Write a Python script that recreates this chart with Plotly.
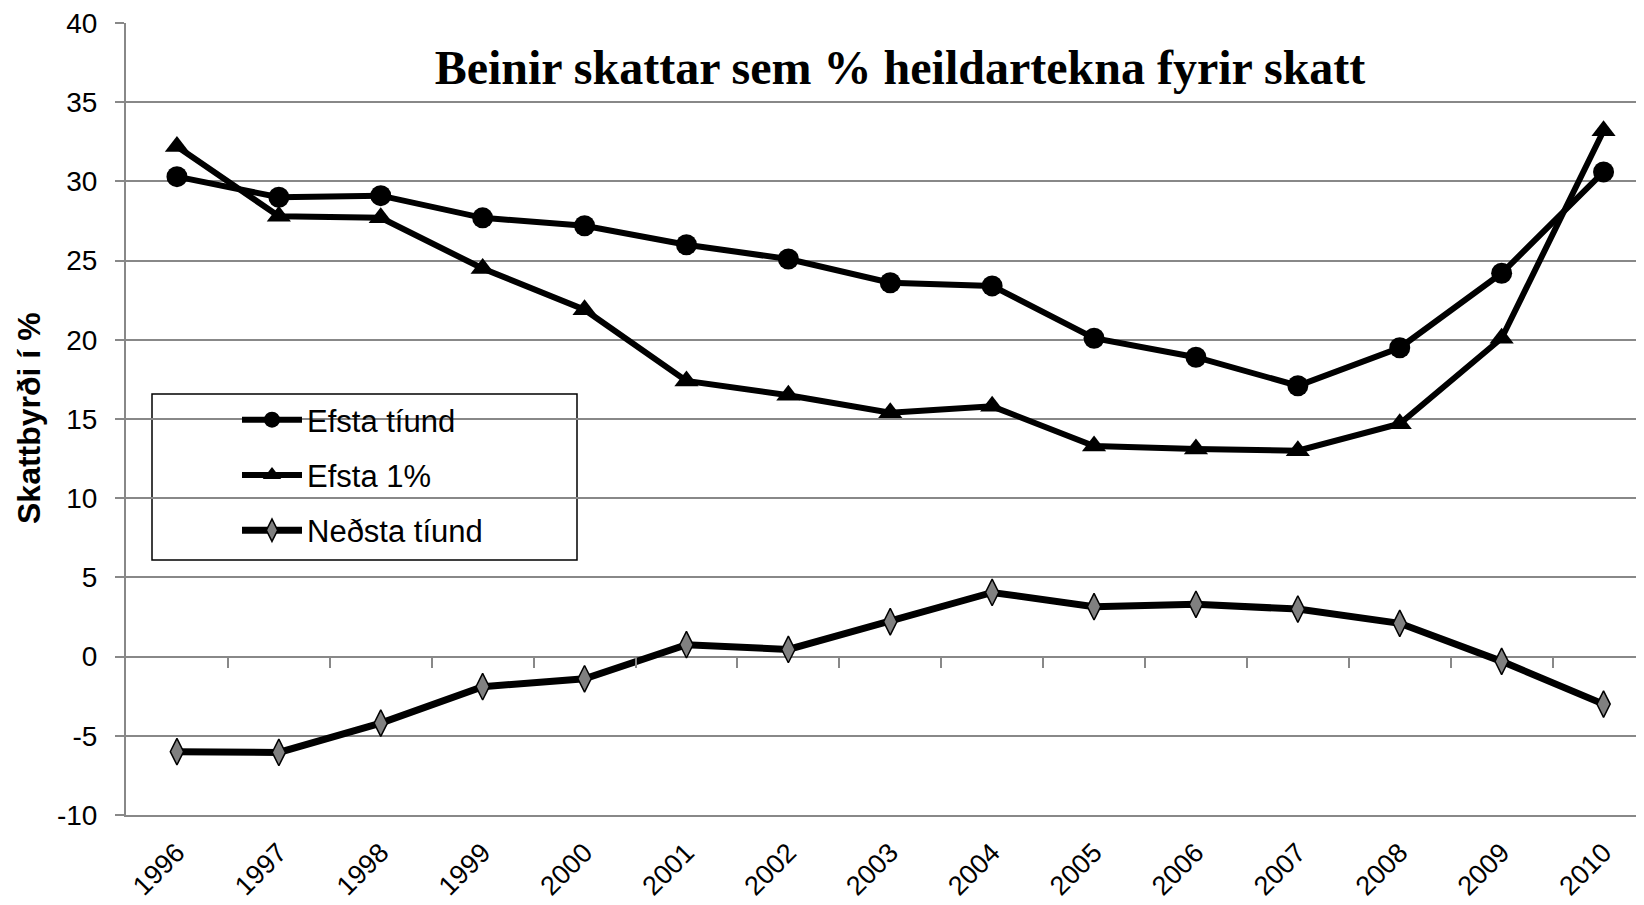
import plotly.graph_objects as go

years = [1996, 1997, 1998, 1999, 2000, 2001, 2002, 2003, 2004, 2005, 2006, 2007, 2008, 2009, 2010]
year_labels = [str(y) for y in years]
efsta_tiund = [30.3, 29.0, 29.1, 27.7, 27.2, 26.0, 25.1, 23.6, 23.4, 20.1, 18.9, 17.1, 19.5, 24.2, 30.6]
efsta_1pct = [32.2, 27.8, 27.7, 24.5, 21.9, 17.4, 16.5, 15.4, 15.8, 13.3, 13.1, 13.0, 14.7, 20.1, 33.2]
nedsta_tiund = [-6.0, -6.05, -4.2, -1.9, -1.4, 0.75, 0.45, 2.2, 4.05, 3.15, 3.3, 3.0, 2.1, -0.3, -3.0]
series_names = ["Efsta tíund", "Efsta 1%", "Neðsta tíund"]
y_ticks = [-10, -5, 0, 5, 10, 15, 20, 25, 30, 35, 40]
y_tick_text = ["-10", "-5", "0", "5", "10", "15", "20", "25", "30", "35", "40"]
title_text = "Beinir skattar sem % heildartekna fyrir skatt"
y_title = "Skattbyrði í %"

GRID = "#888888"
OFF = 8  # default page body margin
W, H = 1644 - OFF, 905 - OFF
ML, MR, MT, MB = 126 - OFF, 0, 23 - OFF, 90
PW = W - ML - MR
PH = H - MT - MB
cat_w = 101.9
x_range = [years[0] - 0.5, years[0] - 0.5 + PW / cat_w]


def px_x(px):
    return (px - OFF - ML) / PW


def px_y(py):
    return (OFF + MT + PH - py) / PH


fig = go.Figure()
fig.add_trace(go.Scatter(
    x=years, y=efsta_tiund, name=series_names[0], mode="lines+markers",
    line=dict(color="black", width=6),
    marker=dict(symbol="circle", size=21, color="black"),
    legendgroup="a"))
fig.add_trace(go.Scatter(
    x=years, y=efsta_1pct, name=series_names[1], mode="lines+markers",
    line=dict(color="black", width=6),
    marker=dict(symbol="triangle-up", size=21, color="black"),
    legendgroup="b"))
fig.add_trace(go.Scatter(
    x=years, y=nedsta_tiund, name=series_names[2], mode="lines+markers",
    line=dict(color="black", width=7),
    marker=dict(symbol="diamond-tall", size=19, color="#808080",
                line=dict(color="black", width=1.5)),
    legendgroup="c"))
# helper trace for the tick axis at y = 0
fig.add_trace(go.Scatter(x=years, y=[None] * len(years), xaxis="x2",
                         showlegend=False, hoverinfo="skip"))

fig.update_layout(
    width=W, height=H, autosize=False,
    margin=dict(l=ML, r=MR, t=MT, b=MB, autoexpand=False),
    paper_bgcolor="white", plot_bgcolor="white",
    font=dict(family="Liberation Sans, Arial", color="black"),
    showlegend=True,
    xaxis=dict(range=x_range, tickmode="array", tickvals=years, ticktext=year_labels,
               tickangle=-45, ticks="", showgrid=False, zeroline=False,
               showline=True, linecolor=GRID, linewidth=2, automargin=False,
               tickfont=dict(size=27), ticklabelstandoff=9, ticklabeloverflow="allow"),
    xaxis2=dict(range=x_range, overlaying="x", anchor="free", position=10 / 50,
                tickmode="array", tickvals=[y + 0.5 for y in years[:-1]],
                ticks="outside", ticklen=10, tickwidth=2, tickcolor=GRID, automargin=False,
                showticklabels=False, showgrid=False, zeroline=False, showline=False),
    yaxis=dict(range=[-10, 40], tickmode="array", tickvals=y_ticks, ticktext=y_tick_text,
               showgrid=True, gridcolor=GRID, gridwidth=2, automargin=False,
               zeroline=False, showline=True, linecolor=GRID, linewidth=2,
               ticks="outside", ticklen=9, tickwidth=2, tickcolor=GRID,
               tickfont=dict(size=28), ticklabelstandoff=12, ticklabeloverflow="allow"),
    title=dict(text=title_text, x=(900 - OFF) / W, xanchor="center",
               y=1 - (67 - OFF) / H, yanchor="middle",
               font=dict(family="Liberation Serif, Times New Roman", size=48, weight="bold")),
    legend=dict(x=px_x(237), xanchor="left", y=px_y(393), yanchor="top",
                bgcolor="rgba(0,0,0,0)", borderwidth=0, font=dict(size=31),
                tracegroupgap=12, itemwidth=60),
    annotations=[dict(text="<b>" + y_title + "</b>", textangle=-90, xref="paper", yref="paper",
                      x=px_x(29), y=px_y(418), xanchor="center", yanchor="middle",
                      showarrow=False, font=dict(size=32))],
    shapes=[dict(type="rect", xref="paper", yref="paper",
                 x0=px_x(152), x1=px_x(577), y0=px_y(560), y1=px_y(394),
                 line=dict(color="black", width=1.5), fillcolor="white", layer="below")],
)

fig.write_html("out.html")
